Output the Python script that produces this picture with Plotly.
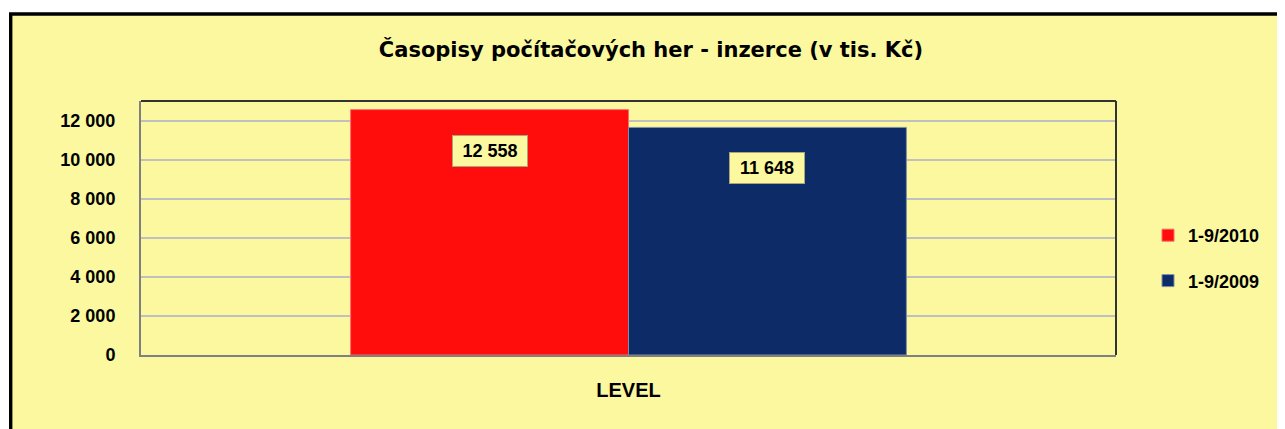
import plotly.graph_objects as go

# ---------------- data ----------------
categories = ["LEVEL"]
series_names = ["1-9/2010", "1-9/2009"]
series_values = [[12558], [11648]]
series_colors = ["#FF0D0D", "#0D2B66"]
series_edges = ["#FF6A6A", "#7F8FA8"]
y_tick_values = [0, 2000, 4000, 6000, 8000, 10000, 12000]
y_tick_labels = ["0", "2 000", "4 000", "6 000", "8 000", "10 000", "12 000"]
title_text = "Časopisy počítačových her - inzerce (v tis. Kč)"

# ---------------- style ----------------
BG = "#FBF8A0"
FONT = "Liberation Sans"
W, H = 1285, 429
OFF = 8  # page body margin offsets the figure by 8px
# target on-screen positions of the plot area
SL, SR, ST, SB = 141, 1116, 101, 355
ML, MT = SL - OFF, ST - OFF
MR, MB = W - (SR - OFF), H - (SB - OFF)
PW, PH = W - ML - MR, H - MT - MB
BARGAP = 0.43


def px_x(sx):
    """screen x -> paper x"""
    return (sx - OFF - ML) / PW


def px_y(sy):
    """screen y -> paper y"""
    return (SB - sy) / PH


fig = go.Figure()
for name, vals, col, edge in zip(series_names, series_values, series_colors, series_edges):
    fig.add_trace(go.Bar(
        x=categories, y=vals, name=name, legendgroup=name,
        marker=dict(color=col, line=dict(color=edge, width=1)),
        hoverinfo="skip",
    ))

n = len(series_names)
bw = (1 - BARGAP) / n
for i, vals in enumerate(series_values):
    off = -(1 - BARGAP) / 2 + bw * (i + 0.5)
    for j, v in enumerate(vals):
        fig.add_annotation(
            x=j + off, y=v, xref="x", yref="y",
            text=f"{v:,}".replace(",", " "),
            showarrow=False, yshift=-41, yanchor="middle",
            font=dict(family=FONT, size=18, color="black", weight="bold"),
            bgcolor=BG, bordercolor="#A8A67A", borderwidth=1, borderpad=5,
            width=64, height=20,
        )

# outer frame (yellow area with black border)
fig.add_shape(type="rect", xref="paper", yref="paper",
              x0=px_x(10.7), x1=px_x(1420), y0=px_y(520), y1=px_y(14),
              line=dict(color="black", width=3.4), fillcolor=BG, layer="below")
# dark top / right plot border
fig.add_shape(type="line", xref="paper", yref="paper", x0=0, x1=1, y0=1, y1=1,
              line=dict(color="#333333", width=2), layer="above")
fig.add_shape(type="line", xref="paper", yref="paper", x0=1, x1=1, y0=0, y1=1,
              line=dict(color="#333333", width=2), layer="above")

fig.update_layout(
    width=W, height=H,
    margin=dict(l=ML, r=MR, t=MT, b=MB, pad=0),
    paper_bgcolor="white", plot_bgcolor="rgba(0,0,0,0)",
    barmode="group", bargap=BARGAP, bargroupgap=0,
    font=dict(family=FONT, color="black"),
    title=dict(text=title_text, x=(651 - OFF) / W, xanchor="center", xref="container",
               y=1 - (50 - OFF) / H, yanchor="middle", yref="container",
               font=dict(family="DejaVu Sans", size=21, color="black", weight="bold")),
    showlegend=True,
    legend=dict(x=px_x(1148), xanchor="left", y=px_y(258), yanchor="middle",
                bgcolor="rgba(0,0,0,0)", traceorder="grouped", tracegroupgap=19,
                font=dict(family=FONT, size=18, color="black", weight="bold")),
)
fig.update_xaxes(showgrid=False, showline=True, linecolor="#808080", linewidth=2,
                 ticks="", ticklabelstandoff=16,
                 tickfont=dict(family=FONT, size=20, color="black", weight="bold"))
fig.update_yaxes(range=[0, 13000], tickvals=y_tick_values, ticktext=y_tick_labels,
                 showgrid=True, gridcolor="#C0C0C0", gridwidth=2,
                 showline=True, linecolor="#808080", linewidth=2, zeroline=False,
                 ticks="", ticklabelstandoff=20,
                 tickfont=dict(family=FONT, size=18, color="black", weight="bold"))

fig.write_html("out.html")
